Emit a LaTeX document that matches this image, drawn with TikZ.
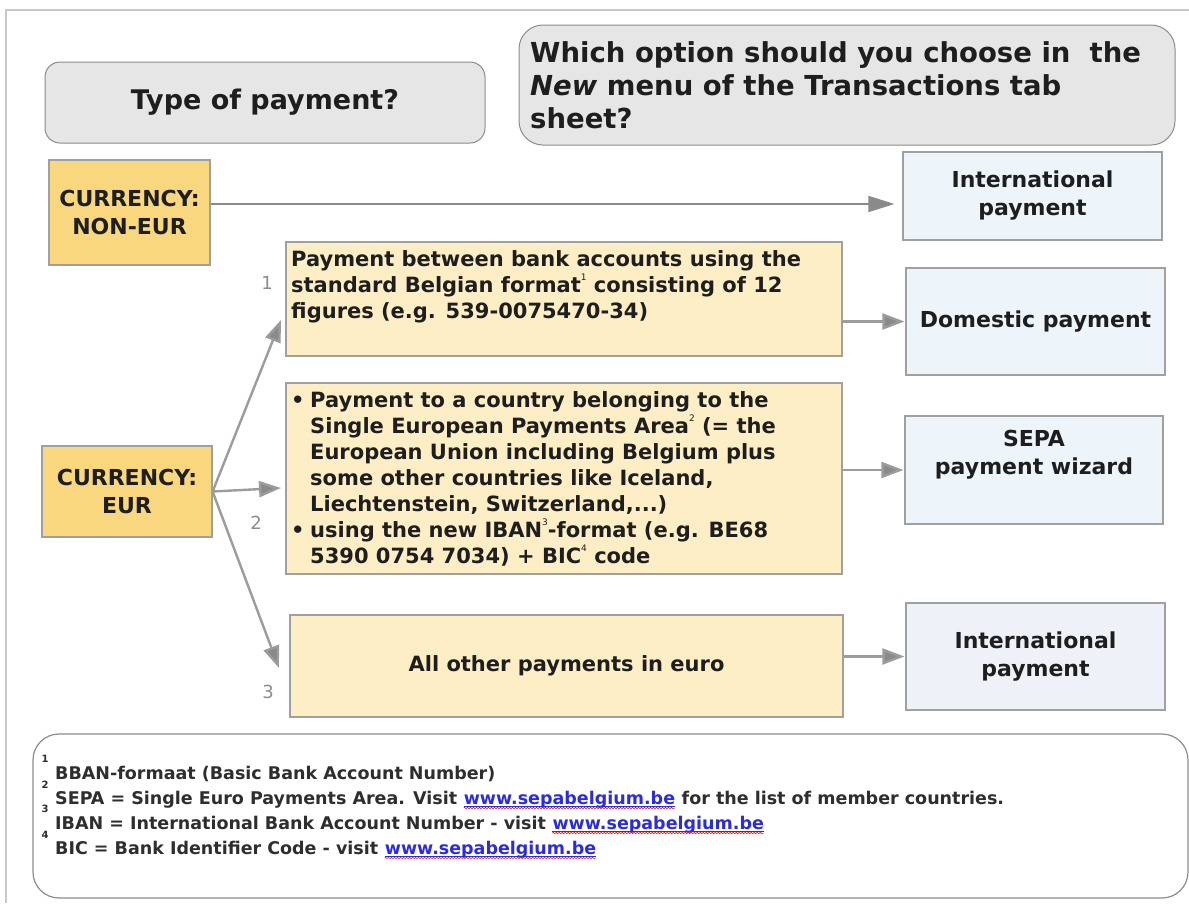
\documentclass[tikz,border=0pt]{standalone}
\usepackage{fontspec}
\setmainfont{DejaVu Sans}
\usetikzlibrary{arrows.meta,decorations.pathmorphing}
\definecolor{txt}{HTML}{1E1E1E}
\definecolor{foottxt}{HTML}{2E2E2E}
\definecolor{titlefill}{HTML}{E6E6E6}
\definecolor{bordergray}{HTML}{8C8C8C}
\definecolor{boxborder}{HTML}{A0A0A0}
\definecolor{gold}{HTML}{F8D77E}
\definecolor{cream}{HTML}{FDEEC6}
\definecolor{ltblue}{HTML}{EEF5FA}
\definecolor{ltlav}{HTML}{EEF1F8}
\definecolor{arrowgray}{HTML}{8A8A8A}
\definecolor{framegray}{HTML}{C8C8C8}
\definecolor{numgray}{HTML}{8C8C8C}
\definecolor{linkblue}{HTML}{2B2BE0}
\newcommand\fnm[1]{\smash{\raisebox{12pt}{\fontsize{9}{9}\selectfont\mdseries #1}}}
\newcommand\weblink[1]{\tikz[baseline=(L.base)]{\node[inner sep=0pt,text=linkblue] (L) {#1};
  \draw[linkblue,line width=0.6pt] ([yshift=-2pt]L.base west) -- ([yshift=-2pt]L.base east);
  \draw[red,line width=0.5pt,decorate,decoration={snake,amplitude=0.7pt,segment length=3pt}] ([yshift=-3.5pt]L.base west) -- ([yshift=-3.5pt]L.base east);}}
\begin{document}
\begin{tikzpicture}[x=1pt,y=-1pt,
  every node/.style={inner sep=0pt,text=txt},
  titlebox/.style={draw=bordergray,fill=titlefill,line width=1pt},
  goldbox/.style={draw=boxborder,fill=gold,line width=1.2pt,align=center,font=\fontsize{22}{28}\selectfont\bfseries},
  creambox/.style={draw=boxborder,fill=cream,line width=1.2pt},
  bluebox/.style={draw=boxborder,fill=ltblue,line width=1.2pt,align=center,font=\fontsize{22}{28}\selectfont\bfseries},
  boxtext/.style={align=left,font=\fontsize{21}{26}\selectfont\bfseries},
  arr/.style={draw=arrowgray!85,line width=2.4pt,-{Triangle[length=22pt,width=16pt,fill=arrowgray]}},
  arrthin/.style={draw=arrowgray,line width=1.6pt,-{Triangle[length=26pt,width=16pt,fill=arrowgray]}},
  numlbl/.style={text=numgray,font=\fontsize{18}{18}\selectfont}
]
\useasboundingbox (0,0) rectangle (1189,903);
\fill[white] (0,0) rectangle (1189,903);
% frame
\draw[framegray,line width=2pt] (1189,10) -- (6,10) -- (6,903);
% titles
\node[titlebox,rounded corners=15pt,minimum width=440pt,minimum height=81pt,font=\fontsize{27}{33}\selectfont\bfseries] (qtype) at (265,102.5) {Type of payment?};
\node[titlebox,rounded corners=24pt,minimum width=656pt,minimum height=120pt] (qopt) at (847,85) {};
\node[anchor=north west,align=left,font=\fontsize{27.5}{33}\selectfont\bfseries] (qopttext) at (530,41) {Which option should you choose in\ \ the\\\textit{New} menu of the Transactions tab\\sheet?};
% left boxes
\node[goldbox,minimum width=161pt,minimum height=105pt] (noneur) at (129.5,212.5) {CURRENCY:\\NON-EUR};
\node[goldbox,minimum width=170pt,minimum height=91pt] (eur) at (127,491.5) {CURRENCY:\\EUR};
% middle boxes
\node[creambox,minimum width=556pt,minimum height=114pt] (box1) at (564,299) {};
\node[boxtext,anchor=north west] (box1text) at (291,250) {Payment between bank accounts using the\\standard Belgian format\fnm{1} consisting of 12\\figures (e.g. 539-0075470-34)};
\node[creambox,minimum width=556pt,minimum height=191pt] (box2) at (564,478.5) {};
\node[boxtext,anchor=north west] (box2text) at (291,391) {\makebox[19pt][l]{\textbullet}Payment to a country belonging to the\\\hspace*{19pt}Single European Payments Area\fnm{2} (= the\\\hspace*{19pt}European Union including Belgium plus\\\hspace*{19pt}some other countries like Iceland,\\\hspace*{19pt}Liechtenstein, Switzerland,...)\\\makebox[19pt][l]{\textbullet}using the new IBAN\fnm{3}-format (e.g. BE68\\\hspace*{19pt}5390 0754 7034) + BIC\fnm{4} code};
\node[creambox,minimum width=553pt,minimum height=102pt,font=\fontsize{21}{26}\selectfont\bfseries] (box3) at (566.5,666) {All other payments in euro};
% right boxes
\node[bluebox,minimum width=259pt,minimum height=88pt] (intl1) at (1032.5,196) {International\\payment};
\node[bluebox,minimum width=259pt,minimum height=107pt] (dom) at (1035.5,321.5) {Domestic payment};
\node[bluebox,minimum width=258pt,minimum height=108pt] (sepa) at (1034,470) {};
\node[align=center,font=\fontsize{22}{28}\selectfont\bfseries] (sepatext) at (1034,455) {SEPA\\payment wizard};
\node[bluebox,fill=ltlav,minimum width=259pt,minimum height=107pt] (intl2) at (1035.5,656.5) {International\\payment};
% number labels
\node[numlbl] (n1) at (267,283) {1};
\node[numlbl] (n2) at (256,523) {2};
\node[numlbl] (n3) at (268,692) {3};
% connectors
\draw[arrthin,shorten >=8pt] ([yshift=8.5pt]noneur.east) -- ([yshift=8.5pt]noneur.east -| intl1.west);
\coordinate (t1) at (281,320);
\coordinate (t2) at (281,488);
\coordinate (t3) at (279,668);
\draw[arr] (eur.east) -- (t1);
\draw[arr] (eur.east) -- (t2);
\draw[arr] (eur.east) -- (t3);
\draw[arr,shorten >=1pt] (box1.east |- dom.west) -- (dom.west);
\draw[arr,shorten >=1pt] (box2.east |- sepa.west) -- (sepa.west);
\draw[arr,shorten >=1pt] (box3.east |- intl2.west) -- (intl2.west);
% footer
\node[draw=bordergray,line width=1.2pt,rounded corners=26pt,minimum width=1155pt,minimum height=164pt] (foot) at (610.5,816) {};
\node[anchor=north west,align=left,text=foottxt,font=\fontsize{17.5}{25}\selectfont\bfseries] (foottext) at (55,766) {BBAN-formaat (Basic Bank Account Number)\\SEPA = Single Euro Payments Area. Visit \weblink{www.sepabelgium.be} for the list of member countries.\\IBAN = International Bank Account Number - visit \weblink{www.sepabelgium.be}\\BIC = Bank Identifier Code - visit \weblink{www.sepabelgium.be}};
\node[font=\fontsize{10}{10}\selectfont\bfseries,text=foottxt] (f1) at (45,759) {1};
\node[font=\fontsize{10}{10}\selectfont\bfseries,text=foottxt] (f2) at (45,785) {2};
\node[font=\fontsize{10}{10}\selectfont\bfseries,text=foottxt] (f3) at (45,809) {3};
\node[font=\fontsize{10}{10}\selectfont\bfseries,text=foottxt] (f4) at (45,835) {4};
\end{tikzpicture}
\end{document}
